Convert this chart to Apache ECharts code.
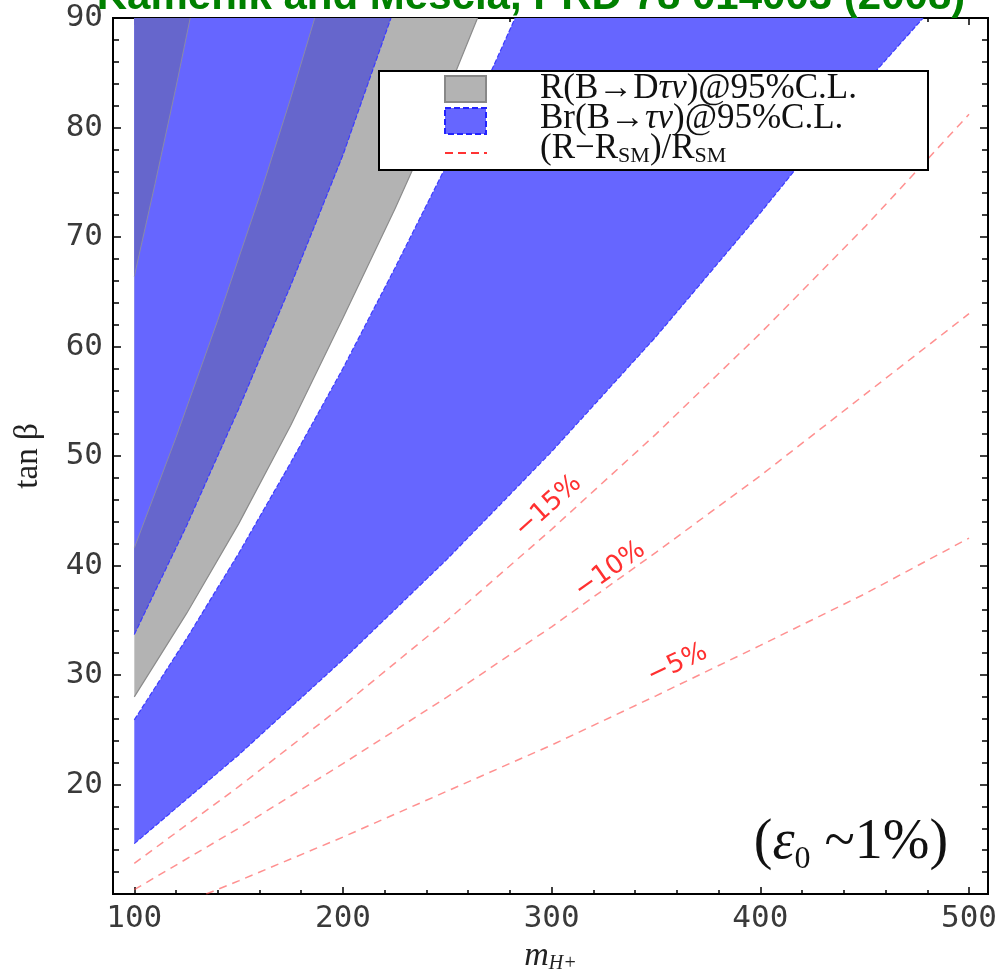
<!DOCTYPE html>
<html>
<head>
<meta charset="utf-8">
<title>R(B→Dτν) and Br(B→τν) in the (mH+, tanβ) plane</title>
<script src="https://cdn.jsdelivr.net/npm/echarts@6/dist/echarts.min.js"></script>
<style>
html, body { margin: 0; padding: 0; background: #fff; }
#chart { width: 1001px; height: 975px; }
</style>
</head>
<body>
<div id="chart"></div>
<script>
// axis ranges / ticks
var xMin = 89.8, xMax = 509.1;
var yMin = 10, yMax = 90;
var xMajor = [100, 200, 300, 400, 500];
var xMinor = [120, 140, 160, 180, 220, 240, 260, 280, 320, 340, 360, 380, 420, 440, 460, 480];

// contour edges, [mH+, tanβ]
var edgeL1 = [[100, 66.4], [110, 74.9], [120, 83.7], [126.8, 90]];
var edgeL2 = [[100, 41.6], [120, 51.7], [140, 62.4], [160, 73.7], [175, 82.7], [186.5, 90]];
var edgeL3 = [[100, 28.0], [125, 35.6], [150, 43.8], [175, 52.8], [200, 62.6], [225, 72.6], [250, 83.2], [264.5, 90]];
var edgeB1 = [[100, 33.7], [125, 43.6], [150, 54.3], [175, 65.6], [200, 77.5], [223, 90]];
var edgeB2 = [[100, 25.9], [125, 33.3], [150, 41.1], [175, 49.4], [200, 58.0], [225, 67.2], [250, 76.7], [270, 84.7], [282.5, 90]];
var edgeB3 = [[100, 14.6], [150, 22.7], [200, 31.4], [250, 40.6], [300, 50.4], [350, 60.9], [400, 72.2], [450, 84.0], [478, 90]];

// (R-Rsm)/Rsm contours
var dev15 = [[100, 12.8], [150, 19.8], [200, 27.2], [250, 35.0], [300, 43.3], [350, 52.0], [400, 61.2], [450, 70.9], [500, 81.2]];
var dev10 = [[100, 10.4], [150, 16.0], [200, 21.9], [250, 28.0], [300, 34.4], [350, 41.2], [400, 48.2], [450, 55.6], [500, 63.0]];
var dev5 = [[134.5, 10], [150, 11.2], [200, 15.2], [250, 19.4], [300, 23.6], [350, 28.1], [400, 32.7], [450, 37.4], [500, 42.5]];
var devLabels = ['−15%', '−10%', '−5%'];
var devLabelAt = [[298.4, 45.4], [328, 39.6], [360.3, 31.0]];
var devLabelAngle = [42, 35, 25];

var gray = '#b3b3b3', blue = '#6666ff', dark = '#6666cc';
var tickFont = 'DejaVu Sans Mono';
var serif = 'Liberation Serif';

function area(pts, color) {
    return {
        type: 'custom', silent: true, clip: true, z: 1,
        data: [pts[0]],
        renderItem: function (params, api) {
            return {
                type: 'polygon',
                shape: { points: pts.map(function (p) { return api.coord(p); }) },
                style: { fill: color }
            };
        }
    };
}
function edge(pts, color, width, type) {
    return {
        type: 'line', data: pts, symbol: 'none', silent: true, z: 3,
        lineStyle: { color: color, width: width, type: type || 'solid' }
    };
}

var chart = echarts.init(document.getElementById('chart'));

function xAx(pos, values, len, withLabel) {
    return {
        type: 'value', position: pos, min: xMin, max: xMax,
        axisLine: { show: true, onZero: false, lineStyle: { color: '#000', width: 2 } },
        axisTick: { show: true, inside: true, length: len, customValues: values, lineStyle: { color: '#000', width: 1.5 } },
        axisLabel: withLabel ? { show: true, customValues: values, margin: 9, fontFamily: tickFont, fontSize: 31, color: '#3a3a3a' } : { show: false },
        splitLine: { show: false }
    };
}
function yAx(pos, withLabel) {
    return {
        type: 'value', position: pos, min: yMin, max: yMax, interval: 10,
        axisLine: { show: true, onZero: false, lineStyle: { color: '#000', width: 2 } },
        axisTick: { show: true, inside: true, length: 8, lineStyle: { color: '#000', width: 1.5 } },
        minorTick: { show: true, splitNumber: 5, length: 6, lineStyle: { color: '#000', width: 1.5 } },
        axisLabel: withLabel ? { show: true, showMinLabel: false, margin: 10, fontFamily: tickFont, fontSize: 31, color: '#3a3a3a' } : { show: false },
        splitLine: { show: false }
    };
}

var xBottom = xAx('bottom', xMajor, 7, true);
xBottom.name = '{m|m}{s|H+}';
xBottom.nameLocation = 'middle';
xBottom.nameGap = 43;
xBottom.nameTextStyle = {
    rich: {
        m: { fontFamily: serif, fontStyle: 'italic', fontSize: 34, color: '#222', lineHeight: 36 },
        s: { fontFamily: serif, fontStyle: 'italic', fontSize: 20, color: '#222', verticalAlign: 'bottom', lineHeight: 36 }
    }
};
var yLeft = yAx('left', true);
yLeft.name = 'tan β';
yLeft.nameLocation = 'middle';
yLeft.nameGap = 68;
yLeft.nameRotate = 90;
yLeft.nameTextStyle = { fontFamily: serif, fontSize: 33, color: '#222' };

var series = [
    area(edgeL3.concat([[100, 90]]), gray),
    area(edgeB1.concat([[100, 90]]), blue),
    area(edgeB1.concat(edgeL2.slice().reverse()), dark),
    area(edgeL1.concat([[100, 90]]), dark),
    area(edgeB2.concat(edgeB3.slice().reverse()), blue),
    edge(edgeL1, '#8a8aa8', 1),
    edge(edgeL2, '#8a8aa8', 1),
    edge(edgeL3, '#8c8c8c', 1.2),
    edge(edgeB1, '#3c3cff', 1.2, [5, 2]),
    edge(edgeB2, '#3c3cff', 1.2, [5, 2]),
    edge(edgeB3, '#3c3cff', 1.2, [5, 2]),
    edge(dev15, 'rgba(255,70,70,0.6)', 1.5, [8, 6]),
    edge(dev10, 'rgba(255,70,70,0.6)', 1.5, [8, 6]),
    edge(dev5, 'rgba(255,70,70,0.6)', 1.5, [8, 6]),
    {
        type: 'custom', silent: true, z: 4,
        data: devLabelAt,
        renderItem: function (params, api) {
            var c = api.coord([api.value(0), api.value(1)]);
            return {
                type: 'text', x: c[0], y: c[1],
                rotation: devLabelAngle[params.dataIndex] * Math.PI / 180,
                style: {
                    text: devLabels[params.dataIndex], fill: '#ff3030',
                    font: '26px "DejaVu Sans"', align: 'center', verticalAlign: 'middle'
                }
            };
        }
    }
];

var legendRich = {
    n: { fontFamily: serif, fontSize: 35, fill: '#111' },
    i: { fontFamily: serif, fontSize: 35, fontStyle: 'italic', fill: '#111' },
    s: { fontFamily: serif, fontSize: 22, fill: '#111', verticalAlign: 'bottom', lineHeight: 36 }
};

var option = {
    animation: false,
    backgroundColor: '#fff',
    grid: { left: 113, right: 13, top: 18, bottom: 81, outerBoundsMode: 'none' },
    xAxis: [xBottom, xAx('bottom', xMinor, 4, false), xAx('top', xMajor, 7, false), xAx('top', xMinor, 4, false)],
    yAxis: [yLeft, yAx('right', false)],
    series: series,
    graphic: [
        {
            type: 'text', x: 531, y: -3, z: 10,
            style: {
                text: 'Kamenik and Mescia, PRD 78 014003 (2008)',
                font: 'bold 42px "Liberation Sans"', fill: '#008000',
                align: 'center', verticalAlign: 'middle'
            }
        },
        {
            type: 'rect', z: 10,
            shape: { x: 379, y: 71, width: 549, height: 99 },
            style: { fill: '#fff', stroke: '#000', lineWidth: 2 }
        },
        {
            type: 'rect', z: 11,
            shape: { x: 445, y: 76, width: 41, height: 26 },
            style: { fill: gray, stroke: '#888', lineWidth: 2 }
        },
        {
            type: 'rect', z: 11,
            shape: { x: 445, y: 108, width: 41, height: 26 },
            style: { fill: blue, stroke: '#2222ff', lineWidth: 2, lineDash: [6, 3] }
        },
        {
            type: 'line', z: 11,
            shape: { x1: 445, y1: 153, x2: 487, y2: 153 },
            style: { stroke: '#ff3333', lineWidth: 2, lineDash: [8, 5] }
        },
        {
            type: 'text', x: 540, y: 89, z: 11,
            style: { text: '{n|R(B→D}{i|τν}{n|)@95%C.L.}', rich: legendRich, verticalAlign: 'middle' }
        },
        {
            type: 'text', x: 540, y: 119, z: 11,
            style: { text: '{n|Br(B→}{i|τν}{n|)@95%C.L.}', rich: legendRich, verticalAlign: 'middle' }
        },
        {
            type: 'text', x: 540, y: 149, z: 11,
            style: { text: '{n|(R−R}{s|SM}{n|)/R}{s|SM}', rich: legendRich, verticalAlign: 'middle' }
        },
        {
            type: 'text', x: 851, y: 843, z: 11,
            style: {
                text: '{a|(}{e|ε}{s|0}{a| ~1%)}',
                align: 'center', verticalAlign: 'middle',
                rich: {
                    a: { fontFamily: serif, fontSize: 56, fill: '#111' },
                    e: { fontFamily: serif, fontSize: 56, fontStyle: 'italic', fill: '#111' },
                    s: { fontFamily: serif, fontSize: 32, fill: '#111', verticalAlign: 'bottom', lineHeight: 66 }
                }
            }
        }
    ]
};
chart.setOption(option);
</script>
</body>
</html>
